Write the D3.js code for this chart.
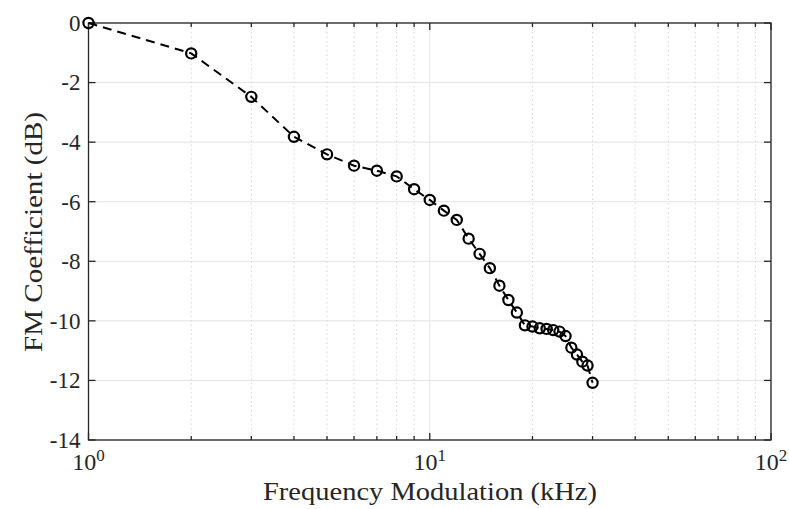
<!DOCTYPE html>
<html>
<head>
<meta charset="utf-8">
<script src="https://cdn.jsdelivr.net/npm/d3@7"></script>
<style>
  html, body { margin: 0; padding: 0; background: #fff; }
  svg { display: block; }
  text { font-family: "Liberation Serif", "DejaVu Serif", serif; fill: #262626; }
</style>
</head>
<body>
<svg id="chart" width="789" height="509"></svg>
<script>
const freqKHz = [1,2,3,4,5,6,7,8,9,10,11,12,13,14,15,16,17,18,19,20,21,22,23,24,25,26,27,28,29,30];
const coeffDB = [0,-1.02,-2.48,-3.82,-4.41,-4.79,-4.96,-5.15,-5.58,-5.94,-6.30,-6.61,-7.24,-7.75,-8.23,-8.82,-9.30,-9.72,-10.15,-10.19,-10.25,-10.27,-10.31,-10.36,-10.51,-10.90,-11.13,-11.37,-11.50,-12.08];
const yTicks = [0,-2,-4,-6,-8,-10,-12,-14];
const xMajorTicks = [1,10,100];
const xMinorTicks = [2,3,4,5,6,7,8,9,20,30,40,50,60,70,80,90];
const xLabel = "Frequency Modulation (kHz)";
const yLabel = "FM Coefficient (dB)";

const L = 88.5, R = 771, T = 23, B = 440;
const svg = d3.select("#chart");
const x = d3.scaleLog().domain([1,100]).range([L,R]);
const y = d3.scaleLinear().domain([-14,0]).range([B,T]);

// grid
const g = svg.append("g");
g.selectAll(".ymaj").data(yTicks).join("line")
  .attr("x1",L).attr("x2",R).attr("y1",d=>y(d)).attr("y2",d=>y(d))
  .attr("stroke","#e3e3e3").attr("stroke-width",1);
g.selectAll(".xmin").data(xMinorTicks).join("line")
  .attr("x1",d=>x(d)).attr("x2",d=>x(d)).attr("y1",T).attr("y2",B)
  .attr("stroke","#d6d6d6").attr("stroke-width",1).attr("stroke-dasharray","1.5,3");
g.selectAll(".xmaj").data(xMajorTicks).join("line")
  .attr("x1",d=>x(d)).attr("x2",d=>x(d)).attr("y1",T).attr("y2",B)
  .attr("stroke","#e3e3e3").attr("stroke-width",1);

// axes box
const axCol = "#262626";
svg.append("rect").attr("x",L).attr("y",T).attr("width",R-L).attr("height",B-T)
  .attr("fill","none").attr("stroke",axCol).attr("stroke-width",1.3);

// ticks (inward)
const tk = svg.append("g").attr("stroke",axCol).attr("stroke-width",1.3);
yTicks.forEach(v=>{
  tk.append("line").attr("x1",L).attr("x2",L+7).attr("y1",y(v)).attr("y2",y(v));
  tk.append("line").attr("x1",R).attr("x2",R-7).attr("y1",y(v)).attr("y2",y(v));
});
xMajorTicks.forEach(v=>{
  tk.append("line").attr("x1",x(v)).attr("x2",x(v)).attr("y1",B).attr("y2",B-7);
  tk.append("line").attr("x1",x(v)).attr("x2",x(v)).attr("y1",T).attr("y2",T+7);
});
xMinorTicks.forEach(v=>{
  tk.append("line").attr("x1",x(v)).attr("x2",x(v)).attr("y1",B).attr("y2",B-4);
  tk.append("line").attr("x1",x(v)).attr("x2",x(v)).attr("y1",T).attr("y2",T+4);
});

// y tick labels
svg.selectAll(".ylab").data(yTicks).join("text")
  .attr("x",L-8).attr("y",d=>y(d)).attr("dy","0.34em")
  .attr("text-anchor","end").attr("font-size",23)
  .text(d=> d<0 ? "-"+Math.abs(d) : String(d));

// x tick labels 10^n
xMajorTicks.forEach(v=>{
  const t = svg.append("text").attr("x",x(v)).attr("y",470).attr("text-anchor","middle").attr("font-size",24);
  t.append("tspan").text("10");
  t.append("tspan").attr("font-size",17).attr("dy",-9).text(String(Math.round(Math.log10(v))));
});

// axis labels
svg.append("text").attr("x",430).attr("y",500).attr("text-anchor","middle")
  .attr("font-size",25).attr("textLength",334).attr("lengthAdjust","spacingAndGlyphs").text(xLabel);
svg.append("text").attr("transform",`translate(42,232) rotate(-90)`)
  .attr("text-anchor","middle").attr("font-size",25)
  .attr("textLength",240).attr("lengthAdjust","spacingAndGlyphs").text(yLabel);

// data line
const line = d3.line().x(d=>x(d[0])).y(d=>y(d[1]));
const pts = freqKHz.map((f,i)=>[f,coeffDB[i]]);
svg.append("path").datum(pts).attr("d",line).attr("fill","none")
  .attr("stroke","#000").attr("stroke-width",2).attr("stroke-dasharray","9,6");
svg.selectAll(".pt").data(pts).join("circle")
  .attr("cx",d=>x(d[0])).attr("cy",d=>y(d[1])).attr("r",5.1)
  .attr("fill","none").attr("stroke","#000").attr("stroke-width",2.2);
</script>
</body>
</html>
